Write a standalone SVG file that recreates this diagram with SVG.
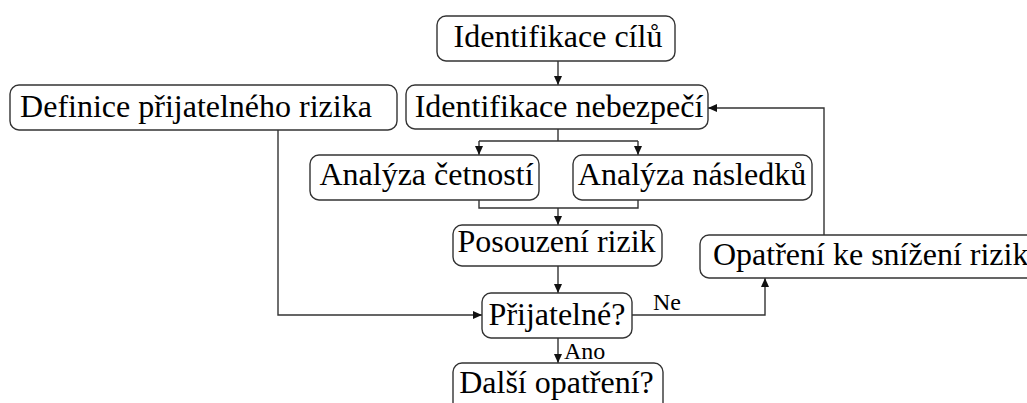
<svg xmlns="http://www.w3.org/2000/svg" width="1027" height="403" viewBox="0 0 1027 403">
<style>
.box{fill:#fff;stroke:#333;stroke-width:1.4}
.t{font-family:"Liberation Serif","Times New Roman",serif;font-size:32px;fill:#000}
.m{text-anchor:middle}
.lbl{font-family:"Liberation Serif","Times New Roman",serif;font-size:24px;fill:#000}
.c{fill:none;stroke:#333;stroke-width:1.4}
</style>
<defs>
<marker id="ah" markerUnits="userSpaceOnUse" markerWidth="10" markerHeight="8" refX="9" refY="4" orient="auto">
<path d="M0,0 L9,4 L0,8 Z" fill="#111"/>
</marker>
</defs>
<rect width="1027" height="403" fill="#fff"/>
<g id="connectors">
<path class="c" d="M558,61 V85" marker-end="url(#ah)"/>
<path class="c" d="M558,129 V141 M479,141 H638"/>
<path class="c" d="M479,141 V155" marker-end="url(#ah)"/>
<path class="c" d="M638,141 V155" marker-end="url(#ah)"/>
<path class="c" d="M479,200 V208 H638 V200"/>
<path class="c" d="M558,208 V225" marker-end="url(#ah)"/>
<path class="c" d="M558,266 V293" marker-end="url(#ah)"/>
<path class="c" d="M278,130 V315 H482" marker-end="url(#ah)"/>
<path class="c" d="M632,315 H765 V278" marker-end="url(#ah)"/>
<path class="c" d="M824,235 V108 H708" marker-end="url(#ah)"/>
<path class="c" d="M558,338 V363" marker-end="url(#ah)"/>
<text class="lbl" x="653" y="310">Ne</text>
<text class="lbl" x="564" y="359">Ano</text>
</g>
<g id="n-cile">
<rect class="box" x="437" y="16" width="238" height="45" rx="9"/>
<text class="t m" x="558" y="47">Identifikace cílů</text>
</g>
<g id="n-definice">
<rect class="box" x="10" y="85" width="387" height="45" rx="9"/>
<text class="t m" x="196" y="117">Definice přijatelného rizika</text>
</g>
<g id="n-nebezpeci">
<rect class="box" x="406" y="85" width="302" height="44" rx="9"/>
<text class="t m" x="559" y="117">Identifikace nebezpečí</text>
</g>
<g id="n-cetnosti">
<rect class="box" x="310" y="155" width="229" height="45" rx="9"/>
<text class="t m" x="426.5" y="185">Analýza četností</text>
</g>
<g id="n-nasledku">
<rect class="box" x="573" y="155" width="239" height="45" rx="9"/>
<text class="t m" x="692" y="185">Analýza následků</text>
</g>
<g id="n-posouzeni">
<rect class="box" x="453" y="225" width="209" height="41" rx="9"/>
<text class="t m" x="556.5" y="252">Posouzení rizik</text>
</g>
<g id="n-opatreni">
<rect class="box" x="700" y="235" width="345" height="43" rx="9"/>
<text class="t" x="713" y="265">Opatření ke snížení rizik</text>
</g>
<g id="n-prijatelne">
<rect class="box" x="482" y="293" width="150" height="45" rx="9"/>
<text class="t m" x="557" y="325">Přijatelné?</text>
</g>
<g id="n-dalsi">
<rect class="box" x="453" y="363" width="210" height="50" rx="9"/>
<text class="t m" x="556.5" y="393">Další opatření?</text>
</g>
</svg>
